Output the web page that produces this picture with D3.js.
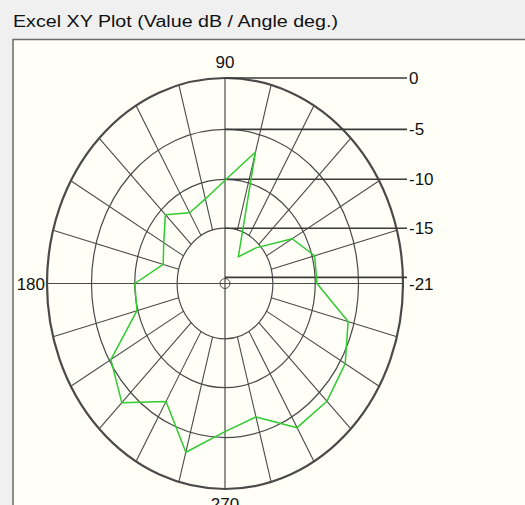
<!DOCTYPE html>
<html>
<head>
<meta charset="utf-8">
<script src="https://cdn.jsdelivr.net/npm/d3@7/dist/d3.min.js"></script>
<style>
  html, body { margin: 0; padding: 0; background: #f0f0f0; }
  svg { display: block; }
</style>
</head>
<body>
<svg id="chart" width="525" height="505"></svg>
<script>
// ---- data ----
const title = "Excel XY Plot (Value dB / Angle deg.)";
const angles = [0, 15, 30, 45, 60, 75, 90, 105, 120, 135, 150, 165,
                180, 195, 210, 225, 240, 255, 270, 285, 300, 315, 330, 345];
const values = [-9.8, -9.7, -11.5, -15.6, -18.0, -6.8, -10.1, -11.7, -12.3, -10.7, -12.3, -13.1,
                -10.0, -9.9, -5.2, -3.6, -6.8, -3.0, -5.6, -6.6, -3.8, -3.8, -4.4, -5.7];
const ringValues = [0, -5, -10, -15];
const dbTickLabels = ["0", "-5", "-10", "-15", "-21"];
const dbTickValues = [0, -5, -10, -15, -21];
const angleLabels = ["90", "180", "270"];
const angleLabelValues = [90, 180, 270];
const spokeStep = 15;

// ---- layout ----
const svg = d3.select("#chart");
const W = 525, H = 505;
const cx = 225, cy = 283.5, RX = 178, RY = 205.5;
const font = "'Liberation Sans', Arial, sans-serif";
const gridColor = "#4a4a4a";

// radial scale (normalized radius) and angle scale (radians)
const r = d3.scaleLinear().domain([-21, -15, -10, -5, 0]).range([0.03, 0.269, 0.507, 0.75, 1]);
const a = d3.scaleLinear().domain([0, 360]).range([0, 2 * Math.PI]);
const px = (deg, n) => cx + RX * n * Math.cos(a(deg));
const py = (deg, n) => cy - RY * n * Math.sin(a(deg));

// background / frame
svg.append("rect").attr("x", 0).attr("y", 0).attr("width", W).attr("height", H).attr("fill", "#f0f0f0");
svg.append("rect").attr("x", 13).attr("y", 39.5).attr("width", W).attr("height", H)
  .attr("fill", "#fffff7").attr("stroke", "#6b6b6b").attr("stroke-width", 1.5);

svg.append("text").attr("x", 13).attr("y", 27)
  .attr("font-family", font).attr("font-size", 16).attr("fill", "#111")
  .attr("textLength", 325).attr("lengthAdjust", "spacingAndGlyphs")
  .text(title);

const g = svg.append("g");

// spokes (from inner ring to outer ring), skipping the main axes
const spokes = d3.range(0, 360, spokeStep).filter(d => d % 90 !== 0);
g.selectAll("line.spoke").data(spokes).join("line")
  .attr("x1", d => px(d, r(-15))).attr("y1", d => py(d, r(-15)))
  .attr("x2", d => px(d, r(0))).attr("y2", d => py(d, r(0)))
  .attr("stroke", gridColor).attr("stroke-width", 1.1);

// rings
g.selectAll("ellipse.ring").data(ringValues).join("ellipse")
  .attr("cx", cx).attr("cy", cy)
  .attr("rx", d => RX * r(d)).attr("ry", d => RY * r(d))
  .attr("fill", "none").attr("stroke", gridColor)
  .attr("stroke-width", d => d === 0 ? 2.2 : 1.2);

// main axes
g.selectAll("line.axis").data([0, 90]).join("line")
  .attr("x1", d => px(d, 1)).attr("y1", d => py(d, 1))
  .attr("x2", d => px(d + 180, 1)).attr("y2", d => py(d + 180, 1))
  .attr("stroke", gridColor).attr("stroke-width", 1.2);

// centre marker
g.append("circle").attr("cx", cx).attr("cy", cy).attr("r", 5)
  .attr("fill", "none").attr("stroke", gridColor).attr("stroke-width", 1);

// dB label lines + labels (upper right)
const labelX = px(0, 1) + 4;
const lab = g.selectAll("g.dblab").data(dbTickValues).join("g");
lab.append("line")
  .attr("x1", cx).attr("x2", labelX)
  .attr("y1", d => py(90, r(d))).attr("y2", d => py(90, r(d)))
  .attr("stroke", "#3a3a3a").attr("stroke-width", 1.6);
lab.append("text")
  .attr("x", labelX + 2)
  .attr("y", d => d === -21 ? cy : py(90, r(d)))
  .attr("dy", "0.36em")
  .attr("font-family", font).attr("font-size", 17).attr("fill", "#111")
  .text((d, i) => dbTickLabels[i]);

// angle labels
const angLab = g.selectAll("text.ang").data(angleLabelValues).join("text")
  .attr("font-family", font).attr("font-size", 17).attr("fill", "#111")
  .attr("text-anchor", d => d === 180 ? "end" : "middle")
  .attr("x", d => d === 180 ? px(d, 1) - 2 : px(d, 1))
  .attr("y", d => d === 90 ? py(d, 1) - 10 : d === 270 ? py(d, 1) + 21 : py(d, 1))
  .attr("dy", d => d === 180 ? "0.36em" : 0)
  .text((d, i) => angleLabels[i]);

// data polygon
const pts = angles.map((d, i) => [px(d, r(values[i])), py(d, r(values[i]))]);
g.append("path")
  .attr("d", d3.line().curve(d3.curveLinearClosed)(pts))
  .attr("fill", "none").attr("stroke", "#2fcb2f").attr("stroke-width", 1.5)
  .attr("stroke-linejoin", "round");
</script>
</body>
</html>
